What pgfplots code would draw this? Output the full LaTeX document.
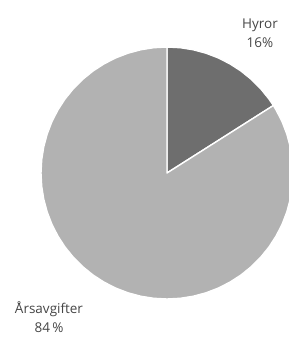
\documentclass[border=0pt]{standalone}
\usepackage{pgfplots}
\pgfplotsset{compat=1.18}
\usepgfplotslibrary{polar}
\usepackage{fontspec}
\setmainfont{Open Sans}
\definecolor{darkwedge}{HTML}{6E6E6E}
\definecolor{lightwedge}{HTML}{B2B2B2}
\definecolor{labeltext}{HTML}{454545}
\begin{document}
\begin{tikzpicture}[x=1pt,y=1pt]
\useasboundingbox (0,0) rectangle (289,338);
\begin{polaraxis}[
  at={(167pt,165pt)}, anchor=center,
  scale only axis, width=252pt, height=252pt,
  ymin=0, ymax=1, hide axis, clip=false,
]
% Hyror 16% : from 90 deg clockwise by 57.6 deg
\addplot[fill=darkwedge, draw=white, line width=1.4pt, line join=round] coordinates {
 (0,0) (90,1) (84,1) (78,1) (72,1) (66,1) (60,1) (54,1) (48,1) (42,1) (36,1) (32.4,1)
} -- cycle;
% Arsavgifter 84%
\addplot[fill=lightwedge, draw=white, line width=1.4pt, line join=round] coordinates {
 (0,0) (32.4,1) (30,1) (24,1) (18,1) (12,1) (6,1) (0,1) (-6,1) (-12,1) (-18,1) (-24,1)
 (-30,1) (-36,1) (-42,1) (-48,1) (-54,1) (-60,1) (-66,1) (-72,1) (-78,1) (-84,1)
 (-90,1) (-96,1) (-102,1) (-108,1) (-114,1) (-120,1) (-126,1) (-132,1) (-138,1)
 (-144,1) (-150,1) (-156,1) (-162,1) (-168,1) (-174,1) (-180,1) (-186,1) (-192,1)
 (-198,1) (-204,1) (-210,1) (-216,1) (-222,1) (-228,1) (-234,1) (-240,1) (-246,1)
 (-252,1) (-258,1) (-264,1) (-270,1)
} -- cycle;
\end{polaraxis}
\node[text=labeltext, font=\fontsize{13.5}{19}\selectfont, align=center, inner sep=0pt] at (260,305) {Hyror\\16\%};
\node[text=labeltext, font=\fontsize{13.5}{19}\selectfont, align=center, inner sep=0pt] at (49,21) {Årsavgifter\\84\,\%};
\end{tikzpicture}
\end{document}
